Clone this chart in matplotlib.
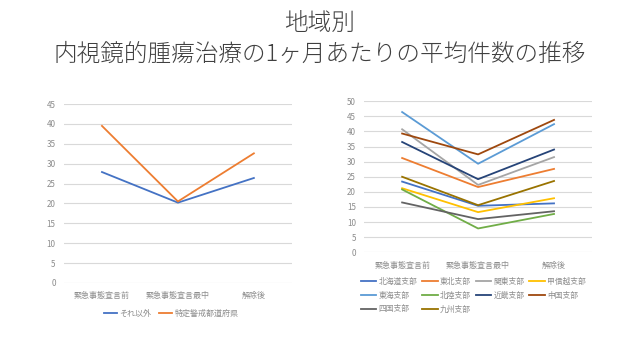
import matplotlib
matplotlib.use("Agg")
import matplotlib.pyplot as plt

plt.rcParams['font.family'] = ['Noto Sans CJK JP', 'DejaVu Sans']

categories = ["緊急事態宣言前", "緊急事態宣言最中", "解除後"]

left_series = {
    "それ以外": [27.9, 20.2, 26.4],
    "特定警戒都道府県": [39.5, 20.5, 32.6],
}
left_colors = ["#4472C4", "#ED7D31"]

region_names = ["北海道支部", "東北支部", "関東支部", "甲信越支部", "東海支部",
                "北陸支部", "近畿支部", "中国支部", "四国支部", "九州支部"]
region_values = [
    [23.4, 15.4, 16.2],
    [31.2, 21.6, 27.6],
    [40.7, 22.3, 31.5],
    [21.2, 13.3, 17.9],
    [46.4, 29.3, 42.4],
    [20.8, 7.9, 12.7],
    [36.5, 24.2, 34.0],
    [39.3, 32.4, 43.8],
    [16.5, 11.0, 13.6],
    [25.0, 15.6, 23.6],
]
region_colors = ["#4472C4", "#ED7D31", "#A5A5A5", "#FFC000", "#5B9BD5",
                 "#70AD47", "#264478", "#9E480E", "#636363", "#997300"]

left_yticks = list(range(0, 46, 5))
right_yticks = list(range(0, 51, 5))

title_line1 = "地域別"
title_line2 = "内視鏡的腫瘍治療の1ヶ月あたりの平均件数の推移"

fig = plt.figure(figsize=(6.4, 3.6), dpi=100)
fig.patch.set_facecolor("white")

tick_color = "#8C8C8C"
grid_color = "#D9D9D9"


def style_ax(ax, yticks):
    for s in ax.spines.values():
        s.set_visible(False)
    ax.set_yticks(yticks)
    ax.set_ylim(yticks[0], yticks[-1])
    ax.set_xlim(-0.5, len(categories) - 0.5)
    ax.set_xticks(range(len(categories)))
    ax.set_xticklabels(categories)
    ax.grid(axis="y", color=grid_color, linewidth=0.8)
    ax.set_axisbelow(True)
    ax.tick_params(axis="both", length=0, labelsize=5.8, colors=tick_color, pad=6)


ax1 = fig.add_axes([0.100, 0.214, 0.356, 0.497])
style_ax(ax1, left_yticks)
for (name, vals), c in zip(left_series.items(), left_colors):
    ax1.plot(range(len(categories)), vals, color=c, linewidth=1.3, label=name)
leg1 = ax1.legend(loc="center", bbox_to_anchor=(0.47, -0.17), ncol=2, frameon=False,
                  fontsize=5.8, handlelength=1.6, columnspacing=1.0, handletextpad=0.3)
for t in leg1.get_texts():
    t.set_color(tick_color)

ax2 = fig.add_axes([0.569, 0.299, 0.356, 0.420])
style_ax(ax2, right_yticks)
handles = {}
for name, vals, c in zip(region_names, region_values, region_colors):
    h, = ax2.plot(range(len(categories)), vals, color=c, linewidth=1.3, label=name)
    handles[name] = h
order = ["北海道支部", "東海支部", "四国支部", "東北支部", "北陸支部", "九州支部",
         "関東支部", "近畿支部", "甲信越支部", "中国支部"]
leg2 = ax2.legend([handles[n] for n in order], order, loc="upper left",
                  bbox_to_anchor=(-0.045, -0.12), ncol=4, frameon=False,
                  fontsize=5.6, handlelength=2.0, columnspacing=0.6,
                  handletextpad=0.3, labelspacing=0.75)
for t in leg2.get_texts():
    t.set_color(tick_color)

fig.text(0.5, 1 - 23 / 360, title_line1, ha="center", va="center", fontsize=17,
         color="#404040", fontweight="light")
fig.text(0.5, 1 - 54 / 360, title_line2, ha="center", va="center", fontsize=17,
         color="#404040", fontweight="light")

fig.savefig("out.png", dpi=100, facecolor="white")
